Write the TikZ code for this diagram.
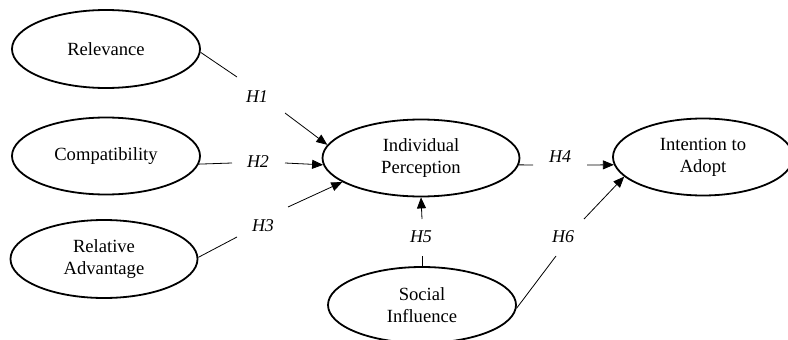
\documentclass[tikz,border=0pt]{standalone}
\usepackage{fontspec}
\setmainfont{Liberation Serif}
\usetikzlibrary{shapes.geometric,arrows.meta}
\tikzset{
  construct/.style={ellipse, draw, line width=1.8pt, inner sep=0pt, align=center,
    font=\fontsize{18.6}{22}\selectfont},
  hyp/.style={font=\fontsize{18}{20}\selectfont\itshape, inner sep=0pt},
  link/.style={line width=0.8pt},
  arr/.style={line width=0.8pt, -{Triangle[length=11pt,width=9pt]}}
}
\begin{document}
\begin{tikzpicture}[x=1pt,y=-1pt]
\useasboundingbox (0,0) rectangle (788,340);
\clip (0,0) rectangle (788,340);
\fill[white] (0,0) rectangle (788,340);
% constructs
\node[construct, minimum width=188pt, minimum height=78pt] (rel) at (106,49) {Relevance};
\node[construct, minimum width=188pt, minimum height=77pt] (comp) at (106,156) {Compatibility};
\node[construct, minimum width=187pt, minimum height=78pt] (radv) at (104,259) {Relative\\Advantage};
\node[construct, minimum width=197pt, minimum height=77pt] (ip) at (421,158) {Individual\\Perception};
\node[construct, minimum width=180pt, minimum height=77pt] (ita) at (703,157) {Intention to\\Adopt};
\node[construct, minimum width=188pt, minimum height=76pt] (si) at (422,305) {Social\\Influence};
% hypothesis labels
\node[hyp] (h1) at (257,97) {H1};
\node[hyp] (h2) at (258,162) {H2};
\node[hyp] (h3) at (263,226) {H3};
\node[hyp] (h4) at (560,157) {H4};
\node[hyp] (h5) at (421,237) {H5};
\node[hyp] (h6) at (563,237) {H6};
% gap ends
\coordinate (h1a) at (237,77);  \coordinate (h1b) at (285,113);
\coordinate (h2a) at (232,163); \coordinate (h2b) at (285,163);
\coordinate (h3a) at (237,237); \coordinate (h3b) at (288,207);
\coordinate (h4a) at (533,165); \coordinate (h4b) at (587,165);
\coordinate (h5a) at (422,256); \coordinate (h5b) at (422,219);
\coordinate (h6a) at (556,256); \coordinate (h6b) at (584,219);
% connectors
\draw[link] (rel.-2) -- (h1a);
\draw[arr] (h1b) -- (ip.172);
\draw[link] (comp.-5) -- (h2a);
\draw[arr] (h2b) -- (ip.184);
\draw[link] (radv.1) -- (h3a);
\draw[arr] (h3b) -- (ip.197);
\draw[link] (ip.-4) -- (h4a);
\draw[arr] (h4b) -- (ita.185);
\draw[link] (si.90) -- (h5a);
\draw[arr] (h5b) -- (ip.270);
\draw[link] (si.-2) -- (h6a);
\draw[arr] (h6b) -- (ita.194);
\end{tikzpicture}
\end{document}
